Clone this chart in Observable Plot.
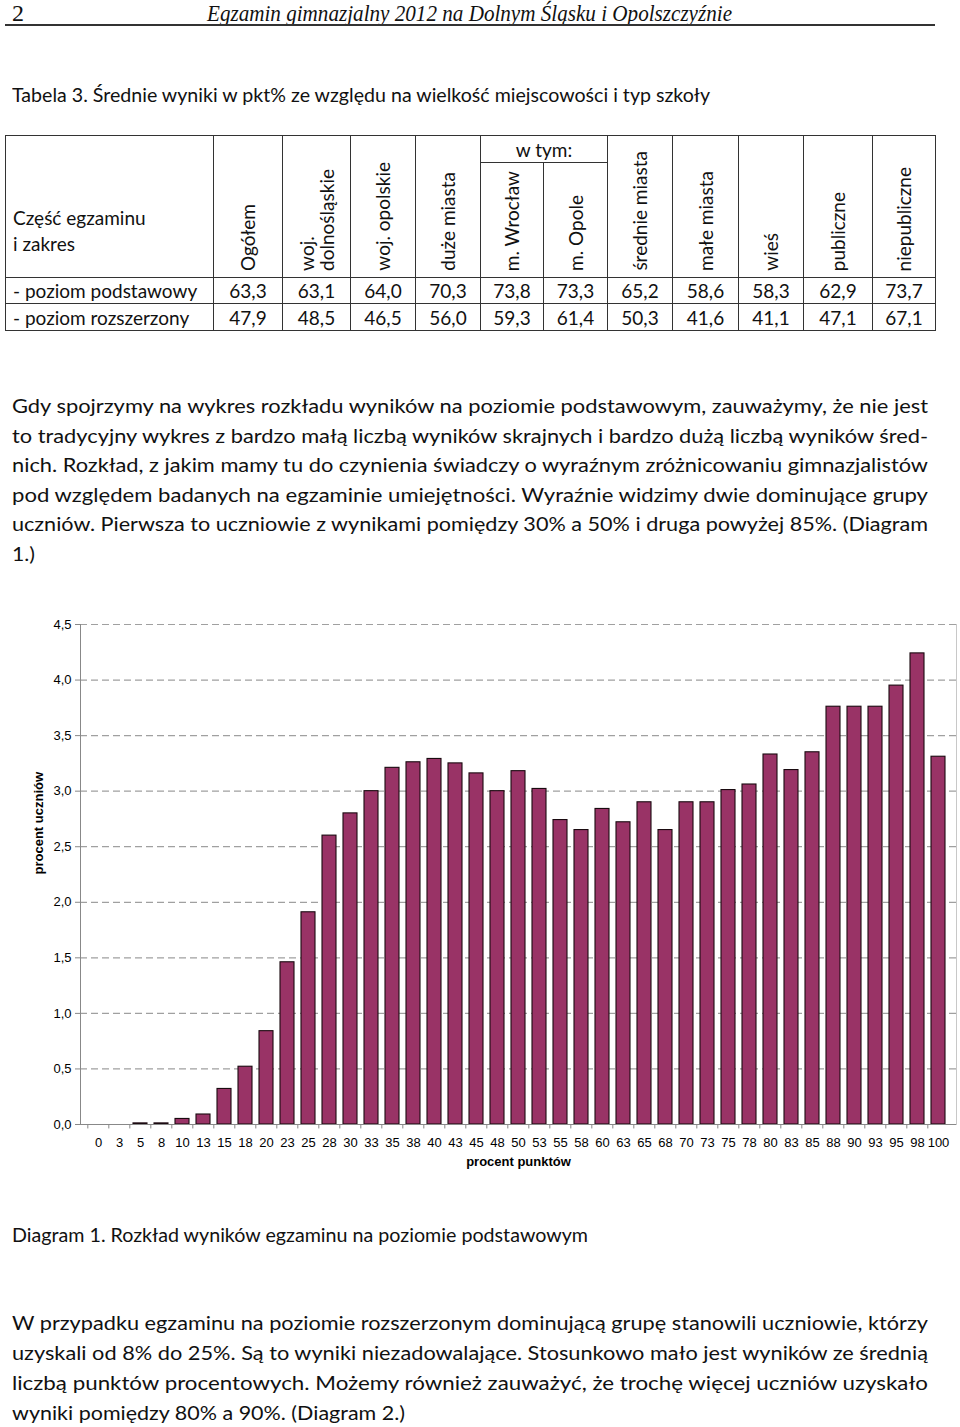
<!DOCTYPE html>
<html>
<head>
<meta charset="utf-8">
<script src="https://cdn.jsdelivr.net/npm/d3@7"></script>
<script src="https://cdn.jsdelivr.net/npm/@observablehq/plot@0.6"></script>
<style>
  html, body { margin:0; padding:0; background:#fff; }
  body { width:960px; height:1427px; position:relative; overflow:hidden; font-family: Lato, "Open Sans", sans-serif; color:#111; }
  .abs { position:absolute; }
  .line { position:absolute; left:12px; white-space:nowrap; font-size:18.5px; line-height:30px; height:30px; }
  .line > span { display:inline-block; transform-origin:0 50%; }
  table.t { position:absolute; left:5px; top:135px; border-collapse:collapse; table-layout:fixed; width:930px; font-size:19px; border:1.5px solid #333; }
  table.t td { border:1px solid #333; padding:0; text-align:center; vertical-align:middle; overflow:hidden; }
  table.t td.lab { text-align:left; padding-left:7px; white-space:nowrap; }
  table.t td.rot { vertical-align:bottom; padding-bottom:2px; }
  .vt { display:inline-block; writing-mode:vertical-rl; transform:rotate(180deg); text-align:left; line-height:20px; white-space:nowrap; }
  #chart { position:absolute; left:0; top:612px; }
</style>
</head>
<body>
<div class="abs" style="left:12px;top:-1px;font-family:'Liberation Serif',serif;font-size:24px;line-height:28px;">2</div>
<div class="line fitx" data-w="525" style="left:207px;top:-1px;font-family:'Liberation Serif',serif;font-style:italic;font-size:24px;line-height:28px;height:28px;"><span>Egzamin gimnazjalny 2012 na Dolnym Śląsku i Opolszczyźnie</span></div>
<div class="abs" style="left:5px;top:24px;width:930px;height:1.5px;background:#333;"></div>

<div class="line fit" data-w="698" style="top:80px"><span>Tabela 3. Średnie wyniki w pkt% ze względu na wielkość miejscowości i typ szkoły</span></div>

<div id="tablewrap"></div>

<div id="para1"></div>

<div id="chart"></div>

<div class="line fit" data-w="576" style="top:1220px"><span>Diagram 1. Rozkład wyników egzaminu na poziomie podstawowym</span></div>

<div id="para2"></div>

<script>
// ---- table data ----
const tableColumns = ["Ogółem", "woj.\ndolnośląskie", "woj. opolskie", "duże miasta", "m. Wrocław", "m. Opole", "średnie miasta", "małe miasta", "wieś", "publiczne", "niepubliczne"];
const tableRows = ["- poziom podstawowy", "- poziom rozszerzony"];
const rowBasic = ["63,3", "63,1", "64,0", "70,3", "73,8", "73,3", "65,2", "58,6", "58,3", "62,9", "73,7"];
const rowExtended = ["47,9", "48,5", "46,5", "56,0", "59,3", "61,4", "50,3", "41,6", "41,1", "47,1", "67,1"];

// ---- paragraph texts ----
const para1Lines = [
  "Gdy spojrzymy na wykres rozkładu wyników na poziomie podstawowym, zauważymy, że nie jest",
  "to tradycyjny wykres z bardzo małą liczbą wyników skrajnych i bardzo dużą liczbą wyników śred-",
  "nich. Rozkład, z jakim mamy tu do czynienia świadczy o wyraźnym zróżnicowaniu gimnazjalistów",
  "pod względem badanych na egzaminie umiejętności. Wyraźnie widzimy dwie dominujące grupy",
  "uczniów. Pierwsza to uczniowie z wynikami pomiędzy 30% a 50% i druga powyżej 85%. (Diagram",
  "1.)"
];
const para1LastWidth = 23;
const para2Lines = [
  "W przypadku egzaminu na poziomie rozszerzonym dominującą grupę stanowili uczniowie, którzy",
  "uzyskali od 8% do 25%. Są to wyniki niezadowalające. Stosunkowo mało jest wyników ze średnią",
  "liczbą punktów procentowych. Możemy również zauważyć, że trochę więcej uczniów uzyskało",
  "wyniki pomiędzy 80% a 90%. (Diagram 2.)"
];
const para2LastWidth = 393;

// ---- chart data ----
const pointLabels = ["0","3","5","8","10","13","15","18","20","23","25","28","30","33","35","38","40","43","45","48","50","53","55","58","60","63","65","68","70","73","75","78","80","83","85","88","90","93","95","98","100"];
const studentPct = [0,0,0.01,0.01,0.05,0.09,0.32,0.52,0.84,1.46,1.91,2.60,2.80,3.00,3.21,3.26,3.29,3.25,3.16,3.00,3.18,3.02,2.74,2.65,2.84,2.72,2.90,2.65,2.90,2.90,3.01,3.06,3.33,3.19,3.35,3.76,3.76,3.76,3.95,4.24,3.31];
const yTicks = [0,0.5,1,1.5,2,2.5,3,3.5,4,4.5];
const xAxisLabel = "procent punktów";
const yAxisLabel = "procent uczniów";

// ---- build table ----
(function(){
  const widths = [208,69,68,65,65,63,64,65,66,65,69,63];
  let h = '<table class="t"><colgroup>' + widths.map(w=>`<col style="width:${w}px">`).join('') + '</colgroup>';
  const rot = (s) => `<div class="vt">${s.replace("\n","<br>")}</div>`;
  h += '<tr style="height:27px">';
  h += '<td rowspan="2" class="lab" style="vertical-align:bottom;padding-bottom:20px;line-height:26px;">Część egzaminu<br>i zakres</td>';
  for (let i=0;i<4;i++) h += `<td rowspan="2" class="rot">${rot(tableColumns[i])}</td>`;
  h += '<td colspan="2">w tym:</td>';
  for (let i=6;i<11;i++) h += `<td rowspan="2" class="rot">${rot(tableColumns[i])}</td>`;
  h += '</tr><tr style="height:115px">';
  h += `<td class="rot">${rot(tableColumns[4])}</td><td class="rot">${rot(tableColumns[5])}</td></tr>`;
  [rowBasic,rowExtended].forEach((r,k)=>{
    h += `<tr style="height:${k?27:26}px"><td class="lab">${tableRows[k]}</td>` + r.map(v=>`<td>${v}</td>`).join('') + '</tr>';
  });
  h += '</table>';
  document.getElementById('tablewrap').innerHTML = h;
})();

// ---- paragraphs ----
function para(id, lines, top, step, lastW) {
  const el = document.getElementById(id);
  el.innerHTML = lines.map((t,i)=>{
    const last = i === lines.length-1;
    return `<div class="line fit" data-w="${last?lastW:916}" style="top:${top+i*step}px"><span>${t}</span></div>`;
  }).join('');
}
para('para1', para1Lines, 391, 29.5, para1LastWidth);
para('para2', para2Lines, 1308, 30, para2LastWidth);

// ---- chart ----
const data = pointLabels.map((l,i)=>({label:l, value:studentPct[i]}));
const W = 960, ML = 80, MR = 4;
const step = (W-ML-MR)/pointLabels.length;
const chart = Plot.plot({
  width: W, height: 570,
  marginLeft: ML, marginRight: MR, marginTop: 12, marginBottom: 58,
  style: {fontFamily: "'Liberation Sans', Arial, sans-serif", fontSize: "13px", color: "#000", background: "transparent", overflow: "visible"},
  x: {type: "band", domain: pointLabels, paddingInner: 0.345, paddingOuter: 0.1725, align: 0.5},
  y: {domain: [0, 4.5]},
  marks: [
    Plot.gridY(yTicks.filter(t=>t>0), {stroke: "#a0a0a0", strokeOpacity: 1, strokeDasharray: "7,4", strokeWidth: 1.2}),
    Plot.frame({anchor: "right", stroke: "#c8c8c8"}),
    Plot.barY(data, {x: "label", y: "value", fill: "#993366", stroke: "#1a0a10", strokeWidth: 1.1}),
    Plot.ruleY([0], {stroke: "#888"}),
    Plot.frame({anchor: "left", stroke: "#888"}),
    Plot.ruleX(pointLabels, {x: d=>d, y1: 0, y2: -0.04, dx: -step/2, stroke: "#888", clip: false}),
    Plot.axisY({ticks: yTicks, tickFormat: d => d.toFixed(1).replace(".", ","), tickSize: 5, tickPadding: 4, label: null, stroke: "#888", fontSize: 13}),
    Plot.axisX({tickSize: 0, tickPadding: 13, label: null, fontSize: 13}),
    Plot.text([xAxisLabel], {frameAnchor: "bottom", dy: 41, text: d=>d, fontWeight: "bold", fontSize: 13}),
    Plot.text([yAxisLabel], {frameAnchor: "left", dx: -42, rotate: -90, text: d=>d, fontWeight: "bold", fontSize: 13})
  ]
});
document.getElementById('chart').appendChild(chart);

// ---- fit text widths (Calibri-like metrics) ----
document.querySelectorAll('.fit, .fitx').forEach(el=>{
  const s = el.firstElementChild;
  const w = s.getBoundingClientRect().width;
  const r = (+el.dataset.w)/w;
  s.style.transform = `scaleX(${r})`;
});
</script>
</body>
</html>
